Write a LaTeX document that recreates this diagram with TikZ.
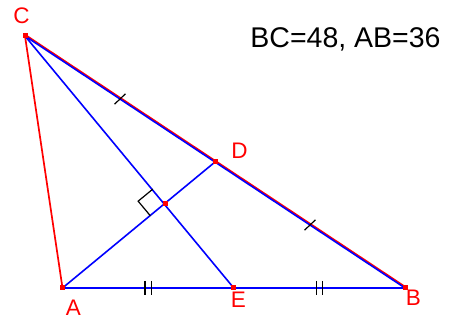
\documentclass[tikz,border=0pt]{standalone}
\usepackage{fontspec}
\setmainfont{Liberation Sans}
\usetikzlibrary{calc}
\begin{document}
\begin{tikzpicture}[x=1pt,y=-1pt,
  side/.style={red,line width=1.7pt},
  seg/.style={blue,line width=1.6pt},
  tick/.style={black,line width=1.2pt},
  pt/.style={rectangle,fill=red,inner sep=0pt,minimum size=5pt},
  lbl/.style={red,inner sep=0pt,font=\fontsize{22.5}{25}\selectfont}]
\useasboundingbox (0,0) rectangle (451,320);
\coordinate (C) at (25,36);
\coordinate (A) at (62.5,288);
\coordinate (B) at (405,288);
\coordinate (D) at ($(C)!0.5!(B)$);
\coordinate (E) at ($(A)!0.5!(B)$);
\coordinate (F) at (165,203.7);
% red sides
\draw[side] (C) -- (A);
\draw[side] ([shift={(0.6,-0.9)}]C) -- ([shift={(0.6,-0.9)}]B);
% blue segments
\draw[seg] (C) -- (B);
\draw[seg] (A) -- (B);
\draw[seg] (C) -- (E);
\draw[seg] (A) -- (D);
% ticks
\draw[tick] ($(C)!0.5!(D)$) ++(-5.5,5.2) -- ++(11,-10.4);
\draw[tick] ($(D)!0.5!(B)$) ++(-5.5,5.2) -- ++(11,-10.4);
\draw[tick] ($(A)!0.5!(E)+(-3.2,0)$) ++(0,-7) -- ++(0,14);
\draw[tick] ($(A)!0.5!(E)+(3.2,0)$) ++(0,-7) -- ++(0,14);
\draw[tick] ($(E)!0.5!(B)+(-3.2,0)$) ++(0,-7) -- ++(0,14);
\draw[tick] ($(E)!0.5!(B)+(3.2,0)$) ++(0,-7) -- ++(0,14);
% right angle
\coordinate (R1) at ($(F)!19pt!(C)$);
\coordinate (R3) at ($(F)!19pt!(A)$);
\coordinate (R2) at ($(R1)+(R3)-(F)$);
\draw[tick] (R1) -- (R2) -- (R3);
% points
\foreach \p in {A,B,C,D,E,F} \node[pt] (n\p) at (\p) {};
% labels
\node[lbl] (lC) at (21.5,16) {C};
\node[lbl] (lD) at (239.5,150.5) {D};
\node[lbl] (lA) at (73.5,308) {A};
\node[lbl] (lE) at (238.5,300) {E};
\node[lbl] (lB) at (413.5,298) {B};
\node[anchor=base,inner sep=0pt,font=\fontsize{28.5}{31}\selectfont] (txt) at (345.5,47.7) {BC=48, AB=36};
\end{tikzpicture}
\end{document}
